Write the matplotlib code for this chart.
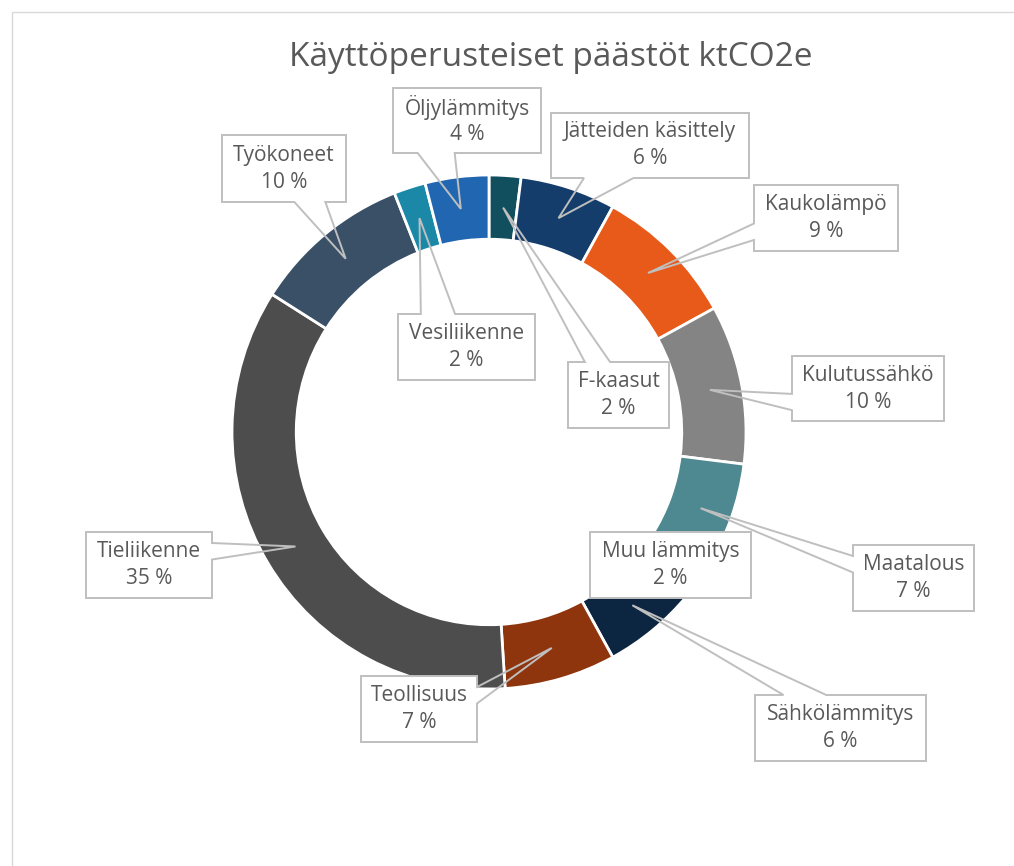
import numpy as np
import matplotlib.pyplot as plt
from matplotlib.patches import Polygon, Rectangle

plt.rcParams['font.family'] = ['Open Sans', 'DejaVu Sans']

# data, clockwise from 12 o'clock
labels = ['F-kaasut', 'Jätteiden käsittely', 'Kaukolämpö', 'Kulutussähkö',
          'Maatalous', 'Muu lämmitys', 'Sähkölämmitys', 'Teollisuus',
          'Tieliikenne', 'Työkoneet', 'Vesiliikenne', 'Öljylämmitys']
shares = [2, 6, 9, 10, 7, 2, 6, 7, 35, 10, 2, 4]
colors = ['#124F5E', '#143D6B', '#E85A1A', '#848484', '#4E8890', '#2E75B6',
          '#0C2541', '#8E350E', '#4D4D4D', '#3A5067', '#1B88A8', '#2166B0']

# label boxes (pixel layout: left, top, right, bottom)
boxes = [(568, 362, 669, 428), (551, 113, 749, 178), (754, 185, 898, 251),
         (792, 356, 944, 421), (853, 545, 974, 611), (590, 532, 751, 598),
         (755, 695, 926, 761), (361, 676, 477, 742), (86, 532, 212, 598),
         (222, 135, 346, 202), (398, 314, 535, 380), (393, 88, 541, 153)]

W, H = 1014, 866
CX, CY, R = 489, 432, 257   # ring centre and radius in pixels


def px(x, y):
    return (x - CX) / R, (CY - y) / R


fig = plt.figure(figsize=(W / 100, H / 100), dpi=100)
ax = fig.add_axes([0, 0, 1, 1])

ax.pie(shares, colors=colors, startangle=90, counterclock=False, radius=1,
       wedgeprops=dict(width=0.25, edgecolor='white', linewidth=2))
ax.set_xlim(px(0, 0)[0], px(W, 0)[0])
ax.set_ylim(px(0, H)[1], px(0, 0)[1])
ax.set_aspect('equal')
ax.axis('off')

# chart area frame
fig.add_artist(Rectangle((12 / W, -0.1), 1.2, (H - 12) / H + 0.1, transform=fig.transFigure,
                         fill=False, edgecolor='#D9D9D9', linewidth=1))

fig.text(551 / W, 1 - 57 / H, 'Käyttöperusteiset päästöt ktCO2e', ha='center', va='center',
         fontsize=24, color='#595959')

total = sum(shares)
cum = np.cumsum([0] + shares)
for i, name in enumerate(labels):
    mid = np.deg2rad((cum[i] + shares[i] / 2) / total * 360)
    tx, ty = 0.875 * np.sin(mid), 0.875 * np.cos(mid)
    l, t = px(boxes[i][0], boxes[i][1])
    r, b = px(boxes[i][2], boxes[i][3])
    w, h = r - l, t - b
    hc, vc = (l + r) / 2, (t + b) / 2
    dx, dy = tx - hc, ty - vc
    if l < tx < r and b < ty < t:
        pts = [(l, t), (r, t), (r, b), (l, b)]
    elif abs(dy) > abs(dx * h / w):
        x1 = l + w * (7 if dx > 0 else 2) / 12
        x2 = l + w * (10 if dx > 0 else 5) / 12
        if dy > 0:
            pts = [(l, t), (x1, t), (tx, ty), (x2, t), (r, t), (r, b), (l, b)]
        else:
            pts = [(l, t), (r, t), (r, b), (x2, b), (tx, ty), (x1, b), (l, b)]
    else:
        y1 = t - h * (7 if dy < 0 else 2) / 12
        y2 = t - h * (10 if dy < 0 else 5) / 12
        if dx < 0:
            pts = [(l, t), (r, t), (r, b), (l, b), (l, y2), (tx, ty), (l, y1)]
        else:
            pts = [(l, t), (r, t), (r, y1), (tx, ty), (r, y2), (r, b), (l, b)]
    ax.add_patch(Rectangle((l, b), w, h, facecolor='white', edgecolor='none', zorder=3))
    ax.add_patch(Polygon(pts, closed=True, fill=False, edgecolor='#BFBFBF',
                         linewidth=1.4, zorder=4, joinstyle='miter'))
    ax.text(hc, vc + 13.5 / R, name, ha='center', va='center', fontsize=15,
            color='#595959', zorder=5)
    ax.text(hc, vc - 13.5 / R, f'{shares[i]} %', ha='center', va='center', fontsize=15,
            color='#595959', zorder=5)

fig.savefig('out.png', dpi=100, facecolor='white')
